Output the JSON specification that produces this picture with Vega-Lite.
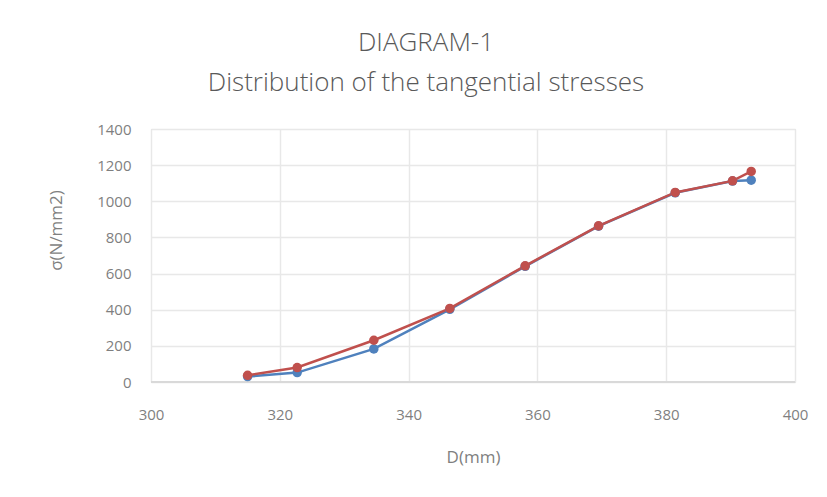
{
  "$schema": "https://vega.github.io/schema/vega-lite/v6.json",
  "autosize": "none",
  "width": 644,
  "height": 253,
  "padding": {"left": 151, "top": 129, "right": 32, "bottom": 115},
  "background": "white",
  "title": {
    "text": ["DIAGRAM-1", "Distribution of the tangential stresses"],
    "font": "Open Sans",
    "fontSize": 26,
    "fontWeight": 300,
    "color": "#595959",
    "lineHeight": 40,
    "anchor": "middle",
    "frame": "group",
    "dx": -47,
    "offset": 26
  },
  "config": {
    "view": {"stroke": "#d9d9d9", "strokeWidth": 1},
    "axis": {
      "labelFont": "Open Sans",
      "titleFont": "Open Sans",
      "labelColor": "#7f7f7f",
      "titleColor": "#7f7f7f",
      "labelFontSize": 15,
      "titleFontSize": 17,
      "titleFontWeight": "normal",
      "gridColor": "#e8e8e8",
      "gridWidth": 1.5,
      "ticks": false,
      "domain": false,
      "labelFlush": false,
      "format": "d"
    }
  },
  "datasets": {
    "pts": [
      {"D": 315.0, "sigma": 30, "series": "Series1"},
      {"D": 322.7, "sigma": 52, "series": "Series1"},
      {"D": 334.6, "sigma": 183, "series": "Series1"},
      {"D": 346.4, "sigma": 402, "series": "Series1"},
      {"D": 358.1, "sigma": 640, "series": "Series1"},
      {"D": 369.5, "sigma": 862, "series": "Series1"},
      {"D": 381.4, "sigma": 1047, "series": "Series1"},
      {"D": 390.3, "sigma": 1112, "series": "Series1"},
      {"D": 393.2, "sigma": 1117, "series": "Series1"},
      {"D": 315.0, "sigma": 37, "series": "Series2"},
      {"D": 322.7, "sigma": 80, "series": "Series2"},
      {"D": 334.6, "sigma": 231, "series": "Series2"},
      {"D": 346.4, "sigma": 407, "series": "Series2"},
      {"D": 358.1, "sigma": 643, "series": "Series2"},
      {"D": 369.5, "sigma": 864, "series": "Series2"},
      {"D": 381.4, "sigma": 1049, "series": "Series2"},
      {"D": 390.3, "sigma": 1113, "series": "Series2"},
      {"D": 393.2, "sigma": 1165, "series": "Series2"}
    ]
  },
  "data": {"name": "pts"},
  "encoding": {
    "x": {
      "field": "D",
      "type": "quantitative",
      "scale": {"domain": [300, 400], "nice": false, "zero": false},
      "axis": {"values": [300, 320, 340, 360, 380, 400], "title": "D(mm)", "labelPadding": 25, "titlePadding": 27}
    },
    "y": {
      "field": "sigma",
      "type": "quantitative",
      "scale": {"domain": [0, 1400], "nice": false},
      "axis": {"values": [0, 200, 400, 600, 800, 1000, 1200, 1400], "title": "σ(N/mm2)", "labelPadding": 20, "titleX": -86, "titleY": 101}
    },
    "color": {
      "field": "series",
      "type": "nominal",
      "scale": {"domain": ["Series1", "Series2"], "range": ["#4F81BD", "#C0504D"]},
      "legend": null
    },
    "order": {"field": "series"}
  },
  "layer": [
    {"mark": {"type": "rule", "color": "#d9d9d9", "strokeWidth": 2}, "data": {"values": [{"y0": 0}]}, "encoding": {"y": {"field": "y0", "type": "quantitative"}, "x": null, "color": null, "order": null}},
    {"mark": {"type": "line", "strokeWidth": 2.5, "point": {"filled": true, "size": 90}}}
  ]
}
